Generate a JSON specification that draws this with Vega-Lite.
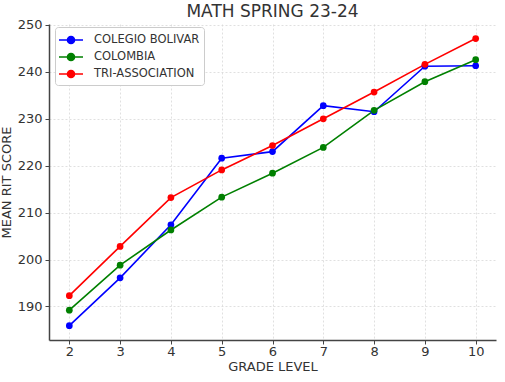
{
  "$schema": "https://vega.github.io/schema/vega-lite/v6.json",
  "autosize": {"type": "none"},
  "width": 447,
  "height": 316,
  "padding": {"left": 49, "top": 24, "right": 9, "bottom": 42},
  "background": "white",
  "config": {
    "font": "DejaVu Sans",
    "view": {"stroke": null},
    "axis": {
      "labelFont": "DejaVu Sans", "titleFont": "DejaVu Sans",
      "labelFontSize": 13, "titleFontSize": 13, "labelColor": "#333", "titleColor": "#333",
      "titleFontWeight": "normal", "domainColor": "#444", "domainWidth": 1.5,
      "tickColor": "#444", "tickSize": 4, "tickWidth": 1,
      "gridColor": "#d8d8d8", "gridDash": [2, 2], "gridWidth": 0.8
    }
  },
  "title": {"text": "MATH SPRING 23-24", "fontSize": 17, "font": "DejaVu Sans", "fontWeight": "normal", "color": "#333", "anchor": "middle", "offset": -2},
  "data": {
    "values": [
      {"grade": 2, "group": "COLEGIO BOLIVAR", "score": 185.9},
      {"grade": 3, "group": "COLEGIO BOLIVAR", "score": 196.1},
      {"grade": 4, "group": "COLEGIO BOLIVAR", "score": 207.4},
      {"grade": 5, "group": "COLEGIO BOLIVAR", "score": 221.6},
      {"grade": 6, "group": "COLEGIO BOLIVAR", "score": 223.0},
      {"grade": 7, "group": "COLEGIO BOLIVAR", "score": 232.8},
      {"grade": 8, "group": "COLEGIO BOLIVAR", "score": 231.5},
      {"grade": 9, "group": "COLEGIO BOLIVAR", "score": 241.2},
      {"grade": 10, "group": "COLEGIO BOLIVAR", "score": 241.3},
      {"grade": 2, "group": "COLOMBIA", "score": 189.2},
      {"grade": 3, "group": "COLOMBIA", "score": 198.8},
      {"grade": 4, "group": "COLOMBIA", "score": 206.3},
      {"grade": 5, "group": "COLOMBIA", "score": 213.3},
      {"grade": 6, "group": "COLOMBIA", "score": 218.4},
      {"grade": 7, "group": "COLOMBIA", "score": 223.9},
      {"grade": 8, "group": "COLOMBIA", "score": 231.8},
      {"grade": 9, "group": "COLOMBIA", "score": 237.9},
      {"grade": 10, "group": "COLOMBIA", "score": 242.6},
      {"grade": 2, "group": "TRI-ASSOCIATION", "score": 192.3},
      {"grade": 3, "group": "TRI-ASSOCIATION", "score": 202.8},
      {"grade": 4, "group": "TRI-ASSOCIATION", "score": 213.2},
      {"grade": 5, "group": "TRI-ASSOCIATION", "score": 219.1},
      {"grade": 6, "group": "TRI-ASSOCIATION", "score": 224.3},
      {"grade": 7, "group": "TRI-ASSOCIATION", "score": 230.0},
      {"grade": 8, "group": "TRI-ASSOCIATION", "score": 235.7},
      {"grade": 9, "group": "TRI-ASSOCIATION", "score": 241.6},
      {"grade": 10, "group": "TRI-ASSOCIATION", "score": 247.1}
    ]
  },
  "mark": {"type": "line", "strokeWidth": 1.6, "point": {"filled": true, "size": 45}},
  "encoding": {
    "x": {"field": "grade", "type": "quantitative", "scale": {"domain": [1.6, 10.4], "nice": false, "zero": false},
      "axis": {"values": [2, 3, 4, 5, 6, 7, 8, 9, 10], "title": "GRADE LEVEL", "titlePadding": 2, "labelPadding": 1}},
    "y": {"field": "score", "type": "quantitative", "scale": {"domain": [182.85, 250.2], "nice": false, "zero": false},
      "axis": {"values": [190, 200, 210, 220, 230, 240, 250], "title": "MEAN RIT SCORE", "titlePadding": 4, "labelPadding": 3}},
    "color": {"field": "group", "type": "nominal",
      "scale": {"domain": ["COLEGIO BOLIVAR", "COLOMBIA", "TRI-ASSOCIATION"], "range": ["#0000ff", "#008000", "#ff0000"]},
      "legend": {"title": null, "orient": "none", "legendX": 6, "legendY": 3, "padding": 4, "strokeColor": "#ccc", "fillColor": "white", "cornerRadius": 3,
        "labelFont": "DejaVu Sans", "labelFontSize": 11.5, "labelColor": "#333", "rowPadding": 1, "labelOffset": 14, "symbolOffset": 3,
        "symbolType": "M-1.5,0H1.5M-0.44,0a0.44,0.44 0 1,0 0.88,0a0.44,0.44 0 1,0 -0.88,0", "symbolSize": 256, "symbolStrokeWidth": 1.6}}
  }
}
